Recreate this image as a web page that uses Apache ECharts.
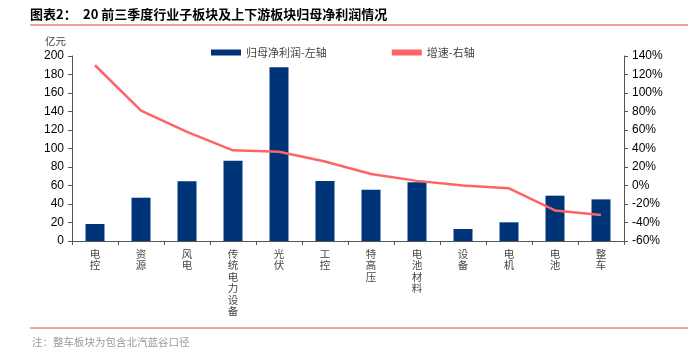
<!DOCTYPE html>
<html>
<head>
<meta charset="utf-8">
<script src="https://cdn.jsdelivr.net/npm/echarts@6/dist/echarts.min.js"></script>
<style>
  html, body { margin: 0; padding: 0; background: #fff; }
  #chart { width: 688px; height: 352px; }
</style>
</head>
<body>
<div id="chart"></div>
<script>
// 板块
const categories = ['电控', '资源', '风电', '传统电力设备', '光伏', '工控', '特高压', '电池材料', '设备', '电机', '电池', '整车'];
// 归母净利润 (亿元)
const profit = [18.4, 46.8, 64.5, 86.8, 187.8, 64.9, 55.5, 63.4, 13, 20.2, 49, 45];
// 增速 (%)
const growth = [130, 81, 58, 38, 36.5, 26, 12.5, 5, 0, -3, -27, -32];

const chartDom = document.getElementById('chart');
const myChart = echarts.init(chartDom);

const axisColor = '#555';
const numFont = 'Liberation Sans, Arial, sans-serif';
const cjkFont = 'Noto Sans CJK SC, sans-serif';

const option = {
    animation: false,
    grid: { left: 72, right: 64, top: 56, bottom: 111 },
    graphic: [
        {
            type: 'text', left: 30, top: 8,
            style: { text: '图表2：', font: 'bold 13px ' + cjkFont, fill: '#000' }
        },
        {
            type: 'text', left: 83, top: 8,
            style: { text: '20 前三季度行业子板块及上下游板块归母净利润情况', font: 'bold 13px ' + cjkFont, fill: '#000' }
        },
        {
            type: 'line', shape: { x1: 30, y1: 25, x2: 688, y2: 25 },
            style: { stroke: '#E8423A', lineWidth: 1 }
        },
        {
            type: 'text', left: 45, top: 36,
            style: { text: '亿元', font: '10.5px ' + cjkFont, fill: '#444' }
        },
        {
            type: 'line', shape: { x1: 30, y1: 328, x2: 688, y2: 328 },
            style: { stroke: '#E8423A', lineWidth: 1 }
        },
        {
            type: 'text', left: 32, top: 337,
            style: { text: '注：整车板块为包含北汽蓝谷口径', font: '10.5px ' + cjkFont, fill: '#999' }
        }
    ],
    legend: {
        top: 42,
        left: 206,
        itemGap: 65,
        itemWidth: 30,
        itemHeight: 6,
        textStyle: { fontFamily: cjkFont, fontSize: 11, color: '#444' },
        data: [
            { name: '归母净利润-左轴', icon: 'rect' },
            { name: '增速-右轴', icon: 'rect', itemStyle: { color: '#FF6464' } }
        ]
    },
    xAxis: {
        type: 'category',
        data: categories,
        axisLine: { lineStyle: { color: axisColor } },
        axisTick: { show: true, length: 4, inside: false, lineStyle: { color: axisColor } },
        axisLabel: {
            interval: 0,
            margin: 7,
            color: '#444',
            fontFamily: cjkFont,
            fontSize: 10.5,
            lineHeight: 11.5,
            verticalAlign: 'top',
            formatter: v => v.split('').join('\n')
        }
    },
    yAxis: [
        {
            type: 'value',
            min: 0, max: 200, interval: 20,
            splitLine: { show: false },
            axisLine: { show: true, lineStyle: { color: axisColor } },
            axisTick: { show: true, length: 4, lineStyle: { color: axisColor } },
            axisLabel: { color: '#000', fontFamily: numFont, fontSize: 12, margin: 8 }
        },
        {
            type: 'value',
            min: -60, max: 140, interval: 20,
            splitLine: { show: false },
            axisLine: { show: true, lineStyle: { color: axisColor } },
            axisTick: { show: true, length: 4, lineStyle: { color: axisColor } },
            axisLabel: { color: '#000', fontFamily: numFont, fontSize: 12, margin: 8, formatter: '{value}%' }
        }
    ],
    series: [
        {
            name: '归母净利润-左轴',
            type: 'bar',
            yAxisIndex: 0,
            barWidth: 19,
            itemStyle: { color: '#003478' },
            data: profit
        },
        {
            name: '增速-右轴',
            type: 'line',
            yAxisIndex: 1,
            symbol: 'none',
            lineStyle: { color: '#FF6464', width: 2.5 },
            itemStyle: { color: '#FF6464' },
            data: growth
        }
    ]
};

myChart.setOption(option);
</script>
</body>
</html>
